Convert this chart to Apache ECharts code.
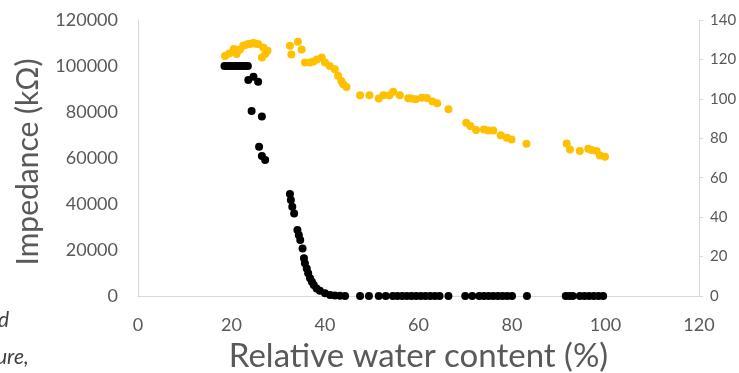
<!DOCTYPE html>
<html>
<head>
<meta charset="utf-8">
<script src="https://cdn.jsdelivr.net/npm/echarts@6/dist/echarts.min.js"></script>
<style>html,body{margin:0;padding:0;background:#fff;overflow:hidden}#c{width:739px;height:373px}</style>
</head>
<body>
<div id="c"></div>
<script>
// Relative water content (%) and impedance (kΩ) – left axis
const impedanceX = [18.5,19,19.5,20,20.5,21,21.5,22,22.5,23,23.5,23.6,24.7,25.7,24.3,26.5,25.9,26.5,27.2,
  32.5,32.7,33,33.4,34.1,34.4,34.7,35.2,35.5,35.7,36.1,36.4,36.8,37.2,37.6,38.2,38.9,40,41.1,42.1,43.2,44.3,
  47.5,49.4,51.5,53,54.5,55.5,56.5,57.5,58.5,59.5,60.5,61.5,62.5,63.5,64.5,66.4,
  70,71.5,73,74,75,76,77,78,79,80,83.2,91.5,92.3,93,94.5,95.5,96.5,97.5,98.5,99.5,100];
const impedanceY = [100000,100000,100000,100000,100000,100000,100000,100000,100000,100000,100000,93900,95300,93200,80400,78000,64900,60900,59100,
  44300,41700,38800,35900,28700,26500,24300,20700,16400,14200,12000,9900,7700,6200,4800,3300,2300,1200,400,200,100,0,
  0,0,0,0,0,0,0,0,0,0,0,0,0,0,0,0,
  0,0,0,0,0,0,0,0,0,0,0,0,0,0,0,0,0,0,0,0];
// Second series – right axis
const rightX = [18.6,19.5,20.5,21.1,21.8,22.5,23.2,23.6,24.2,24.7,25.2,25.7,26.5,26.8,27.2,27.7,
  32.5,32.8,34.2,35,
  35.7,36.8,37.5,38.3,39.3,40,41,42.1,42.8,43.5,43.9,44.6,
  47.5,49.5,51.5,52.5,53.8,54.6,56,57.8,58.5,59.4,60.7,61.8,63,64,66.4,
  70.2,71.1,72.3,74,74.9,76,77.6,78.9,79.9,83.1,
  91.7,92.4,94.5,96.3,97,98.1,98.8,99.9];
const rightY = [121.8,123,125.3,122.7,125,126.9,127.5,127.8,128,128.3,128,127.8,121,126,122.7,124.4,
  127,122.5,129,125,
  118.5,118.5,119,120,121,118.5,116.7,115,111.7,109,107.4,106,
  101.8,101.8,100.2,101.8,101.8,103.6,101.8,100.3,100.2,99.8,100.6,100.4,98.6,97.8,94.7,
  87.9,86.2,84.2,84.5,84,84,81.5,80.3,79.4,77.2,
  77.4,74.3,73.5,74.7,74,73.5,71.3,70.6];
const xTitle = 'Relative water content (%)';
const yTitle = 'Impedance (kΩ)';

const pair = (xs, ys) => xs.map((x, i) => [x, ys[i]]);
const gray = '#595959';
const plain = v => String(v);
const chart = echarts.init(document.getElementById('c'), null, {renderer: 'canvas'});
chart.setOption({
  animation: false,
  textStyle: {fontFamily: 'Lato'},
  grid: {left: 138, right: 40, top: 20, bottom: 77, containLabel: false, outerBoundsMode: 'none'},
  xAxis: {
    type: 'value', min: 0, max: 120, interval: 20,
    axisLine: {show: true, onZero: false, lineStyle: {color: '#d9d9d9', width: 1}},
    axisTick: {show: false}, splitLine: {show: false},
    axisLabel: {color: gray, fontSize: 18, margin: 20, fontFamily: 'Lato', formatter: plain},
    name: xTitle, nameLocation: 'middle', nameGap: 44,
    nameTextStyle: {color: gray, fontSize: 33, fontFamily: 'Lato'}
  },
  yAxis: [{
    type: 'value', min: 0, max: 120000, interval: 20000,
    axisLine: {show: true, lineStyle: {color: '#d9d9d9', width: 1}},
    axisTick: {show: false}, splitLine: {show: false},
    axisLabel: {color: gray, fontSize: 18, margin: 20, fontFamily: 'Lato', formatter: plain}
  }, {
    type: 'value', min: 0, max: 140, interval: 20, position: 'right',
    axisLine: {show: true, lineStyle: {color: '#d9d9d9', width: 1}},
    axisTick: {show: true, length: 4, lineStyle: {color: '#d9d9d9'}}, splitLine: {show: false},
    axisLabel: {color: gray, fontSize: 15, margin: 11, fontFamily: 'Lato', formatter: plain}
  }],
  series: [{
    type: 'scatter', yAxisIndex: 1, symbolSize: 8,
    itemStyle: {color: '#FFC000', opacity: 1},
    data: pair(rightX, rightY)
  }, {
    type: 'scatter', yAxisIndex: 0, symbolSize: 8,
    itemStyle: {color: '#000000', opacity: 1},
    data: pair(impedanceX, impedanceY)
  }],
  graphic: [
    {type: 'text', x: 28, y: 162, rotation: Math.PI / 2,
      style: {text: yTitle, font: '30px Lato', fill: gray, align: 'center', verticalAlign: 'middle'}},
    {type: 'text', left: -2, top: 310, style: {text: 'd', font: 'italic 21px Lato', fill: '#404040'}},
    {type: 'text', left: -4, top: 347, style: {text: 'ure,', font: 'italic 21px Lato', fill: '#404040'}}
  ]
});
</script>
</body>
</html>
